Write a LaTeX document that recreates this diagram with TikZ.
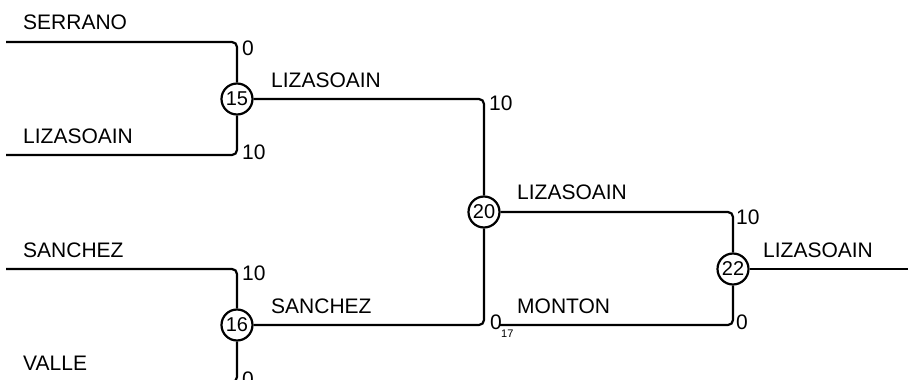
\documentclass[tikz,border=0pt]{standalone}
\usepackage{fontspec}
\setmainfont{Liberation Sans}
\begin{document}
\begin{tikzpicture}[x=1pt,y=-1pt,
  wire/.style={line width=2.2pt,rounded corners=5pt},
  match/.style={circle,draw,line width=2.2pt,minimum size=31pt,inner sep=0pt,font=\fontsize{20}{24}\selectfont},
  lbl/.style={anchor=west,inner sep=0pt,font=\fontsize{21}{25}\selectfont},
  tiny/.style={anchor=west,inner sep=0pt,font=\fontsize{11}{13}\selectfont}]
\useasboundingbox (0,0) rectangle (908,380);
\node[match] (c15) at (237,99) {15};
\node[match] (c16) at (237,325) {16};
\node[match] (c20) at (484,212) {20};
\node[match] (c22) at (733,269) {22};
\coordinate (s1) at (6,42);
\coordinate (s2) at (6,155);
\coordinate (s3) at (6,269);
\coordinate (s4) at (6,382);
\coordinate (m17) at (500,325);
\coordinate (e) at (912,269);
\draw[wire] (s1) -| (c15);
\draw[wire] (s2) -| (c15);
\draw[wire] (c15) -| (c20);
\draw[wire] (s3) -| (c16);
\draw[wire] (s4) -| (c16);
\draw[wire] (c16) -| (c20);
\draw[wire] (c20) -| (c22);
\draw[wire] (m17) -| (c22);
\draw[wire] (c22) -- (e);
\node[lbl] (l1) at (23,22) {SERRANO};
\node[lbl] (l2) at (23,136.5) {LIZASOAIN};
\node[lbl] (n1) at (242,48) {0};
\node[lbl] (n2) at (242,152) {10};
\node[lbl] (l3) at (271,80) {LIZASOAIN};
\node[lbl] (n3) at (489,103) {10};
\node[lbl] (l4) at (23,250) {SANCHEZ};
\node[lbl] (n4) at (242,273) {10};
\node[lbl] (l5) at (271,306.5) {SANCHEZ};
\node[lbl] (l6) at (23,363) {VALLE};
\node[lbl] (n5) at (242,379.5) {0};
\node[lbl] (l7) at (517,192.5) {LIZASOAIN};
\node[lbl] (l8) at (517,306) {MONTON};
\node[lbl] (n6) at (490,322) {0};
\node[tiny] (n7) at (501,333.5) {17};
\node[lbl] (n8) at (736,217) {10};
\node[lbl] (n9) at (736,322) {0};
\node[lbl] (l9) at (763,250) {LIZASOAIN};
\end{tikzpicture}
\end{document}
